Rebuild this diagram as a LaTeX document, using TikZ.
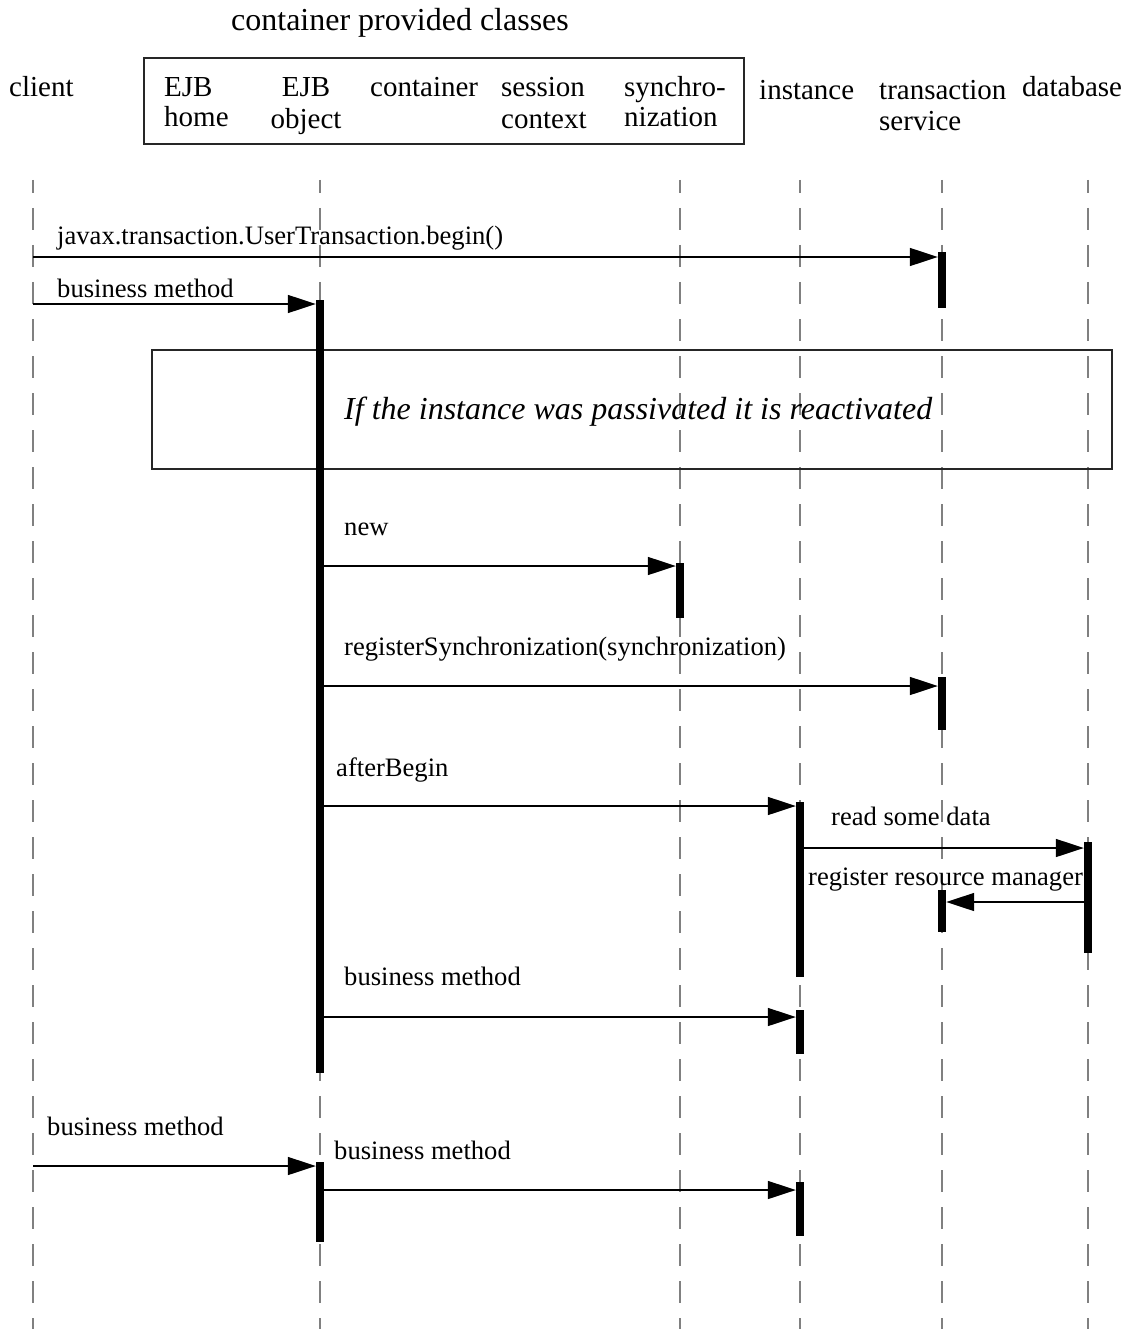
\documentclass[tikz,border=0pt]{standalone}
\usepackage{fontspec}
\setmainfont{Liberation Serif}
\usetikzlibrary{arrows.meta}
\begin{document}
\begin{tikzpicture}[x=1pt,y=-1pt,
  txt/.style={font=\fontsize{26.6}{29}\selectfont, inner sep=0pt, anchor=base west},
  head/.style={txt, font=\fontsize{29}{30}\selectfont, align=left},
  life/.style={draw=black!50, line width=2pt, dash pattern=on 22pt off 15pt, dash phase=9pt},
  msg/.style={draw=black, line width=1.5pt, -{Triangle[length=28pt,width=18pt]}},
  frame/.style={draw=black!85, line width=2pt},
  bar/.style={fill=black, draw=none, minimum width=8pt, inner sep=0pt, anchor=north}
]
\useasboundingbox (0,0) rectangle (1128,1329);

% heading (two-line labels are placed by the baseline of their last line)
\node[txt, font=\fontsize{32}{34}\selectfont, anchor=base] (title) at (400,31) {container provided classes};
\draw[frame] (144,58) rectangle (744,144);
\node[head] (hclient) at (9,97) {client};
\node[head] (hhome) at (164,127) {EJB\\home};
\node[head, font=\fontsize{29}{32}\selectfont, align=center, anchor=base] (hobject) at (306,129) {EJB\\object};
\node[head] (hcontainer) at (370,97) {container};
\node[head, font=\fontsize{29}{32}\selectfont] (hsession) at (501,129) {session\\context};
\node[head] (hsync) at (624,127) {synchro-\\nization};
\node[head] (hinstance) at (759,100) {instance};
\node[head, font=\fontsize{29}{31}\selectfont] (hts) at (879,131) {transaction\\service};
\node[head] (hdb) at (1022,97) {database};

% lifelines
\foreach \n/\x in {client/33, ejb/320, sync/680, inst/800, ts/942, db/1088} {
  \coordinate (\n-top) at (\x,180);
  \coordinate (\n-end) at (\x,1329);
  \draw[life] (\n-top) -- (\n-end);
}

% reactivation frame
\draw[frame] (152,350) rectangle (1112,469);
\node[txt, font=\fontsize{32}{34}\selectfont\itshape] (react) at (344,419)
  {If the instance was passivated it is reactivated};

% activation bars
\node[bar, minimum height=56pt]  (ts1)   at (942,252) {};
\node[bar, minimum height=773pt] (ejb1)  at (320,300) {};
\node[bar, minimum height=55pt]  (sync1) at (680,563) {};
\node[bar, minimum height=53pt]  (ts2)   at (942,677) {};
\node[bar, minimum height=175pt] (inst1) at (800,802) {};
\node[bar, minimum height=111pt] (db1)   at (1088,842) {};
\node[bar, minimum height=42pt]  (ts3)   at (942,890) {};
\node[bar, minimum height=44pt]  (inst2) at (800,1010) {};
\node[bar, minimum height=80pt]  (ejb2)  at (320,1162) {};
\node[bar, minimum height=54pt]  (inst3) at (800,1182) {};

% message rows
\coordinate (r1) at (0,257);
\coordinate (r2) at (0,304);
\coordinate (r3) at (0,566);
\coordinate (r4) at (0,686);
\coordinate (r5) at (0,806);
\coordinate (r6) at (0,848);
\coordinate (r7) at (0,902);
\coordinate (r8) at (0,1017);
\coordinate (r9) at (0,1166);
\coordinate (r10) at (0,1190);

% messages
\node[txt] (l1) at (57,245) {javax.transaction.UserTransaction.begin()};
\draw[msg] (client-top |- r1) -- (ts1.west |- r1);

\node[txt] (l2) at (57,298) {business method};
\draw[msg] (client-top |- r2) -- (ejb1.west |- r2);

\node[txt] (l3) at (344,535) {new};
\draw[msg] (ejb1.east |- r3) -- (sync1.west |- r3);

\node[txt] (l4) at (344,655) {registerSynchronization(synchronization)};
\draw[msg] (ejb1.east |- r4) -- (ts2.west |- r4);

\node[txt] (l5) at (336,776) {afterBegin};
\draw[msg] (ejb1.east |- r5) -- (inst1.west |- r5);

\node[txt] (l6) at (831,825) {read some data};
\draw[msg] (inst1.east |- r6) -- (db1.west |- r6);

\node[txt] (l7) at (808,885) {register resource manager};
\draw[msg] (db1.west |- r7) -- (ts3.east |- r7);

\node[txt] (l8) at (344,985) {business method};
\draw[msg] (ejb1.east |- r8) -- (inst2.west |- r8);

\node[txt] (l9) at (47,1135) {business method};
\draw[msg] (client-top |- r9) -- (ejb2.west |- r9);

\node[txt] (l10) at (334,1159) {business method};
\draw[msg] (ejb2.east |- r10) -- (inst3.west |- r10);

\end{tikzpicture}
\end{document}
